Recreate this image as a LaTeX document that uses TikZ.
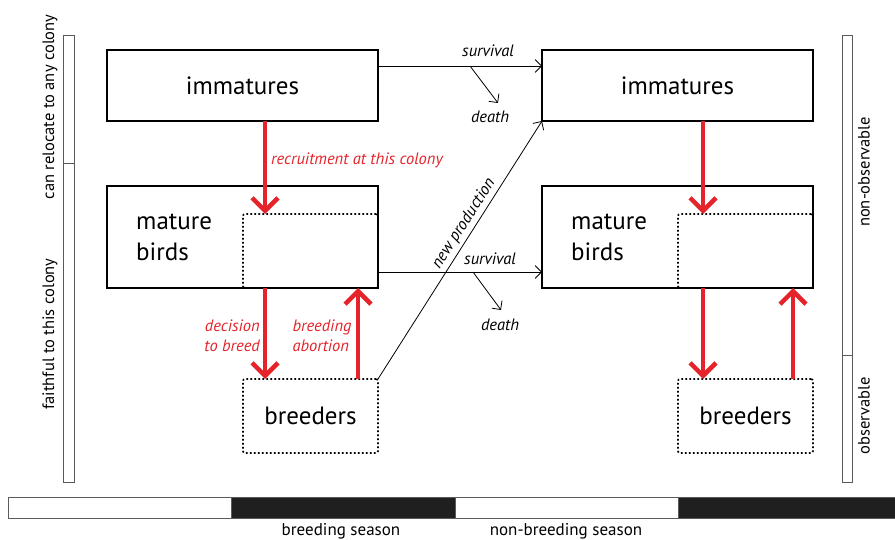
\documentclass[tikz,border=0pt]{standalone}
\usepackage{fontspec}
\setmainfont{PT Sans}
\usetikzlibrary{arrows.meta}
\definecolor{arrowred}{RGB}{228,35,42}
\definecolor{bargray}{RGB}{90,90,90}

\begin{document}
\begin{tikzpicture}[
    x=1pt, y=-1pt,
    box/.style={
      rectangle,
      draw=black,
      line width=1.8pt,
      minimum width=271pt,
      inner sep=0pt,
      outer sep=0pt
    },
    subbox/.style={
      rectangle,
      draw=black,
      line width=1.7pt,
      dash pattern=on 1.7pt off 2.3pt,
      rounded corners=2pt,
      minimum width=135pt,
      minimum height=74pt,
      inner sep=0pt,
      outer sep=0pt
    },
    flow/.style={-{Straight Barb[angle=90:9pt]}, line width=0.8pt},
    move/.style={-{Straight Barb[length=13pt,width=26pt]}, draw=arrowred, line width=4.5pt},
    lab/.style={font=\itshape\fontsize{16.5}{20}\selectfont, inner sep=0pt},
    redlab/.style={lab, text=arrowred},
    big/.style={font=\fontsize{25}{31}\selectfont, inner sep=0pt},
    side/.style={font=\fontsize{16.5}{19}\selectfont, rotate=90, inner sep=0pt},
    sidebar/.style={draw=bargray, line width=0.8pt}
  ]
    \useasboundingbox (0,0) rectangle (895,540);

    % side bars
    \draw[sidebar] (63,35) rectangle (74,482);
    \draw[sidebar] (63,163) -- (74,163);
    \node[side] (relocate) at (50,107) {can relocate to any colony};
    \node[side] (faithful) at (50,334) {faithful to this colony};
    \draw[sidebar] (842,35) rectangle (852,482);
    \draw[sidebar] (842,355) -- (852,355);
    \node[side] (nonobs) at (864,172) {non-observable};
    \node[side] (obs) at (864,416) {observable};

    % this colony, breeding season
    \draw (242.5,85.5) node[box, minimum height=71pt] (immL) {};
    \node[big] at (immL) {immatures};
    \draw (310.5,251) node[subbox] (innerL) {};
    \draw (242.5,237) node[box, minimum height=102pt] (matL) {};
    \node[big, anchor=west, align=left] (matLtext) at (136,237) {mature\\birds};
    \draw (310.5,416) node[subbox] (brdL) {};
    \node[big] at (brdL) {breeders};

    % this colony, non-breeding season
    \draw (677.5,85.5) node[box, minimum height=71pt] (immR) {};
    \node[big] at (immR) {immatures};
    \draw (745.5,251) node[subbox] (innerR) {};
    \draw (677.5,237) node[box, minimum height=102pt] (matR) {};
    \node[big, anchor=west, align=left] (matRtext) at (571,237) {mature\\birds};
    \draw (745.5,416) node[subbox] (brdR) {};
    \node[big] at (brdR) {breeders};

    % columns of the red arrows
    \coordinate (colL1) at (265,0);
    \coordinate (colL2) at (358,0);
    \coordinate (colR1) at (703,0);
    \coordinate (colR2) at (793,0);

    % red transitions
    \draw[move] (colL1 |- immL.south) -- (colL1 |- innerL.north);
    \draw[move] (colL1 |- matL.south) -- (colL1 |- brdL.north);
    \draw[move] (colL2 |- brdL.north) -- (colL2 |- matL.south);
    \draw[move] (colR1 |- immR.south) -- (colR1 |- innerR.north);
    \draw[move] (colR1 |- matR.south) -- (colR1 |- brdR.north);
    \draw[move] (colR2 |- brdR.north) -- (colR2 |- matR.south);
    \node[redlab, anchor=west] (recruit) at (271,160) {recruitment at this colony};
    \node[redlab, anchor=east, align=right] (decide) at (260,336) {decision\\to breed};
    \node[redlab, align=left] (abort) at (322,336) {breeding\\abortion};

    % survival and death
    \draw[flow] ([yshift=19.5]immL.east) -- ([yshift=19.5]immR.west);
    \draw[flow] ([yshift=-35]matL.east) -- ([yshift=-35]matR.west);
    \coordinate (split1) at (470,66);
    \coordinate (dead1) at (498,103);
    \coordinate (split2) at (473,272);
    \coordinate (dead2) at (501,310);
    \draw[flow] (split1) -- (dead1);
    \draw[flow] (split2) -- (dead2);
    \node[lab] (surv1) at (488,51) {survival};
    \node[lab] (death1) at (490,117) {death};
    \node[lab] (surv2) at (490,259) {survival};
    \node[lab] (death2) at (500,325) {death};

    % new production
    \draw[flow] (brdL.north east) -- (immR.south west)
      node[lab, pos=0.58, sloped, above=3pt] (newprod) {new production};

    % seasons
    \draw[sidebar, fill=white] (8,497) rectangle (231,518);
    \draw[sidebar, fill=black!88] (231,497) rectangle (455,518);
    \draw[sidebar, fill=white] (455,497) rectangle (678,518);
    \draw[sidebar, fill=black!88] (678,497) rectangle (895,518);
    \node[font=\fontsize{17}{19}\selectfont] (breedseason) at (341,531) {breeding season};
    \node[font=\fontsize{17}{19}\selectfont] (nonbreedseason) at (566,531) {non-breeding season};
  \end{tikzpicture}
\end{document}
